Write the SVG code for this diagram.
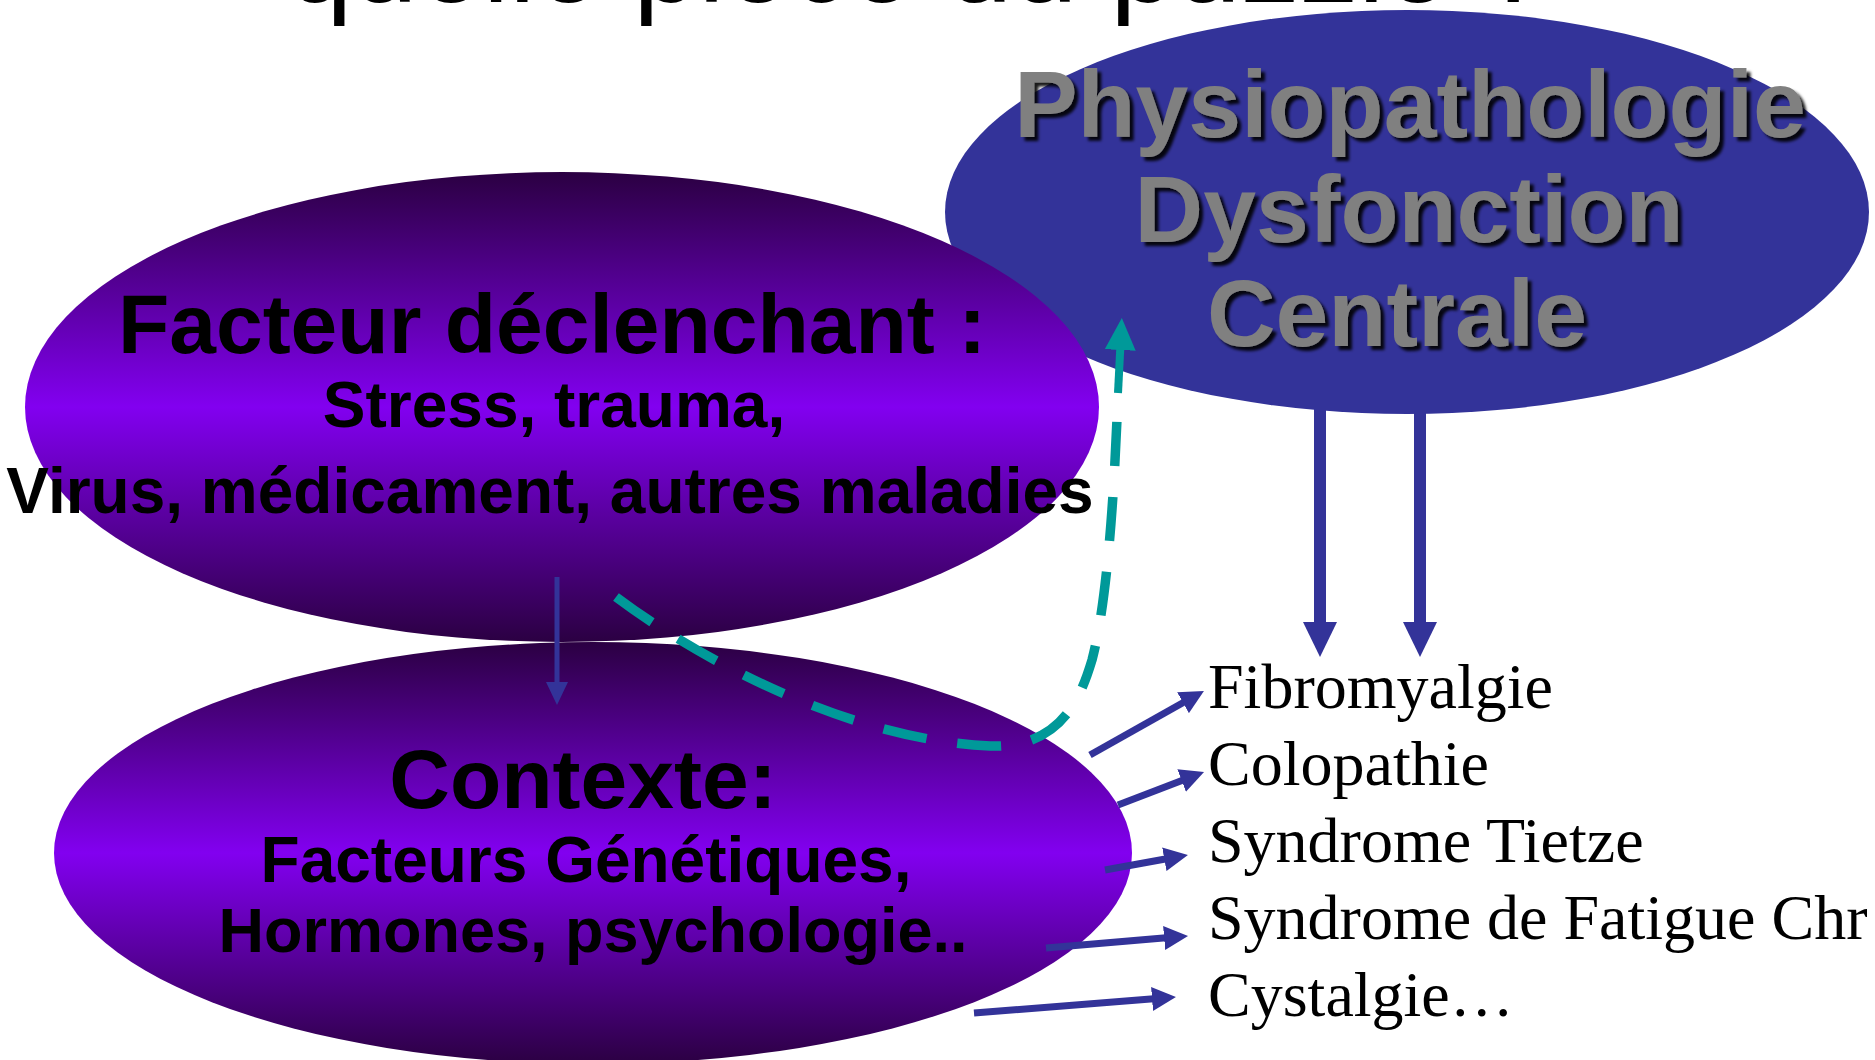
<svg xmlns="http://www.w3.org/2000/svg" width="1875" height="1060" viewBox="0 0 1875 1060">
<defs>
<linearGradient id="purple" x1="0" y1="0" x2="0" y2="1">
<stop offset="0" stop-color="#2B0042"/>
<stop offset="0.5" stop-color="#8200F0"/>
<stop offset="1" stop-color="#2B0042"/>
</linearGradient>
<filter id="shadow" x="-5%" y="-10%" width="110%" height="130%">
<feDropShadow dx="4" dy="4" stdDeviation="1.5" flood-color="#000" flood-opacity="0.9"/>
</filter>
<marker id="headSmall" markerUnits="userSpaceOnUse" markerWidth="24" markerHeight="24" refX="8" refY="12" orient="auto">
<path d="M0,0 L24,12 L0,24 Z" fill="#333399"/>
</marker>
<marker id="headThick" markerUnits="userSpaceOnUse" markerWidth="35" markerHeight="34" refX="10" refY="17" orient="auto">
<path d="M0,0 L35,17 L0,34 Z" fill="#333399"/>
</marker>
<marker id="headThin" markerUnits="userSpaceOnUse" markerWidth="23" markerHeight="22" refX="5" refY="11" orient="auto">
<path d="M0,0 L23,11 L0,22 Z" fill="#333399"/>
</marker>
<marker id="headTeal" markerUnits="userSpaceOnUse" markerWidth="32" markerHeight="31" refX="6" refY="15.5" orient="auto">
<path d="M0,0 L32,15.5 L0,31 Z" fill="#009999"/>
</marker>
</defs>
<style>
.title{font-family:"Liberation Sans",Arial,sans-serif;font-size:117.5px;fill:#000}
.big{font-family:"Liberation Sans",Arial,sans-serif;font-weight:bold;font-size:84px;fill:#000;text-anchor:middle}
.sub{font-family:"Liberation Sans",Arial,sans-serif;font-weight:bold;font-size:64px;fill:#000;text-anchor:middle}
.phys{font-family:"Liberation Sans",Arial,sans-serif;font-weight:bold;font-size:95px;fill:#808080;text-anchor:middle;filter:url(#shadow)}
.item{font-family:"Liberation Serif","Times New Roman",serif;font-size:64px;fill:#000}
.arr{stroke:#333399;fill:none}
</style>
<rect width="1875" height="1060" fill="#ffffff"/>

<g id="title">
<text class="title" x="287" y="2">quelle pièce du puzzle ?</text>
</g>

<g id="physiopathologie">
<ellipse cx="1407" cy="212" rx="462" ry="202" fill="#333399"/>
<text class="phys" x="1410" y="137">Physiopathologie</text>
<text class="phys" x="1409" y="241.5">Dysfonction</text>
<text class="phys" x="1397" y="346">Centrale</text>
</g>

<g id="facteur">
<ellipse cx="562" cy="407" rx="537" ry="235" fill="url(#purple)"/>
<text class="big" x="552" y="353">Facteur déclenchant :</text>
<text class="sub" x="554" y="427">Stress, trauma,</text>
<text class="sub" x="550" y="513">Virus, médicament, autres maladies</text>
</g>

<g id="contexte">
<ellipse cx="593" cy="853" rx="539" ry="211" fill="url(#purple)"/>
<text class="big" x="583" y="808">Contexte:</text>
<text class="sub" x="586" y="882">Facteurs Génétiques,</text>
<text class="sub" x="593" y="952" style="font-size:63px">Hormones, psychologie..</text>
</g>

<g id="list">
<text class="item" x="1208" y="708">Fibromyalgie</text>
<text class="item" x="1208" y="785">Colopathie</text>
<text class="item" x="1208" y="862">Syndrome Tietze</text>
<text class="item" x="1208" y="939">Syndrome de Fatigue Chr</text>
<text class="item" x="1208" y="1016">Cystalgie…</text>
</g>

<g id="connectors">
<line class="arr" x1="557" y1="577" x2="557" y2="687" stroke-width="5" marker-end="url(#headThin)"/>
<path d="M616,597 C700,660 850,740 990,746 C1060,748 1080,700 1092,660 C1108,600 1115,480 1118,392" fill="none" stroke="#009999" stroke-width="9.5" stroke-dasharray="44 31"/>
<line x1="1118" y1="393" x2="1120.5" y2="344" stroke="#009999" stroke-width="8" marker-end="url(#headTeal)"/>
<line class="arr" x1="1320" y1="405" x2="1320" y2="632" stroke-width="12" marker-end="url(#headThick)"/>
<line class="arr" x1="1420" y1="405" x2="1420" y2="632" stroke-width="12" marker-end="url(#headThick)"/>
<line class="arr" x1="1090" y1="755" x2="1190" y2="698.8" stroke-width="7" marker-end="url(#headSmall)"/>
<line class="arr" x1="1118" y1="805" x2="1189.1" y2="777.7" stroke-width="7" marker-end="url(#headSmall)"/>
<line class="arr" x1="1105" y1="870" x2="1172.2" y2="857.8" stroke-width="7" marker-end="url(#headSmall)"/>
<line class="arr" x1="1046" y1="948" x2="1172.1" y2="937.3" stroke-width="7" marker-end="url(#headSmall)"/>
<line class="arr" x1="974" y1="1013" x2="1160" y2="998.3" stroke-width="7" marker-end="url(#headSmall)"/>
</g>
</svg>
